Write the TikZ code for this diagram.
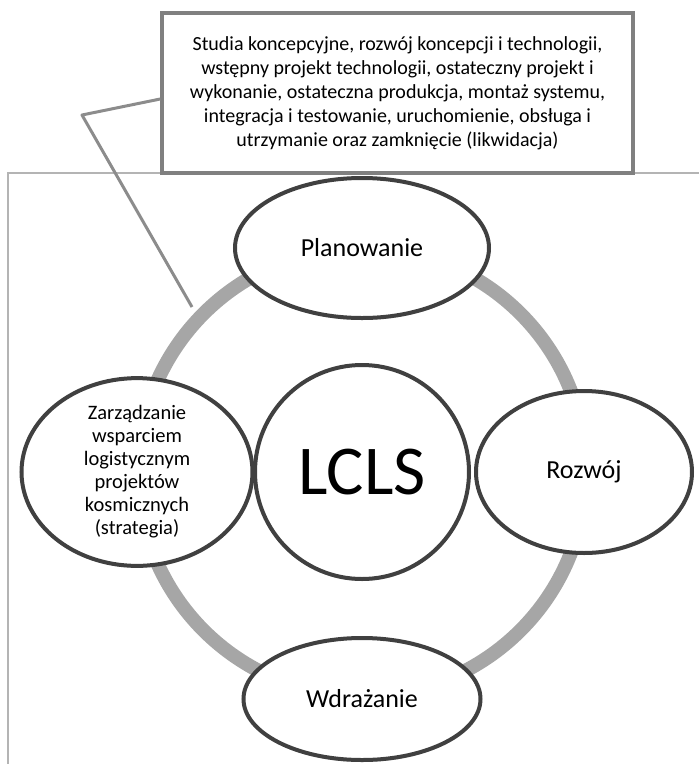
\documentclass[tikz,border=0pt]{standalone}
\usepackage{fontspec}
\setmainfont{Carlito}
\usetikzlibrary{shapes.geometric,shadows}
\definecolor{ringgray}{HTML}{A6A6A6}
\definecolor{edgegray}{HTML}{404040}
\definecolor{boxgray}{HTML}{808080}
\definecolor{leadgray}{HTML}{8C8C8C}
\definecolor{framegray}{HTML}{B4B4B4}
\begin{document}
\begin{tikzpicture}[x=1pt,y=-1pt,
  phase/.style={ellipse, draw=edgegray, line width=4pt, fill=white,
    inner sep=0pt, align=center, text=black,
    drop shadow={opacity=0.3, shadow xshift=0.5pt, shadow yshift=-2pt}},
  hubnode/.style={circle, draw=edgegray, line width=4pt, fill=white,
    inner sep=0pt, minimum size=214pt, font=\fontsize{70}{70}\selectfont,
    drop shadow={opacity=0.3, shadow xshift=0.5pt, shadow yshift=-2pt}},
  notebox/.style={rectangle, draw=boxgray, line width=3.5pt, fill=white,
    inner sep=0pt, align=center,
    font=\fontsize{20}{24}\selectfont,
    drop shadow={opacity=0.25, shadow xshift=1pt, shadow yshift=-1pt}},
  leader/.style={draw=leadgray, line width=3pt, line join=round},
  cycle ring/.style={draw=ringgray, line width=14pt},
  frame/.style={draw=framegray, line width=1.2pt}]
\useasboundingbox (0,0) rectangle (699,764);

% outer frame
\draw[frame] (8,800) -- (8,173) -- (720,173);

% cycle ring behind the phases
\coordinate (hub) at (362,472);
\draw[cycle ring] (hub) circle[radius=224pt];

% phases of the cycle
\node[phase, minimum width=254pt, minimum height=140pt,
      font=\fontsize{26}{26}\selectfont] (plan) at (362,248) {Planowanie};
\node[phase, minimum width=216pt, minimum height=162pt,
      font=\fontsize{26}{26}\selectfont] (dev) at (584,472) {Rozwój};
\node[phase, minimum width=237pt, minimum height=122pt,
      font=\fontsize{26}{26}\selectfont] (impl) at (362,699) {Wdrażanie};
\node[phase, minimum width=231pt, minimum height=161pt,
      font=\fontsize{20.5}{23}\selectfont] (mgmt) at (137,472)
  {Zarządzanie\\wsparciem\\logistycznym\\projektów\\kosmicznych\\(strategia)};

% centre
\node[hubnode] (lcls) at (hub) {LCLS};

% callout with its leader line
\node[notebox, minimum width=471pt, minimum height=160pt] (note) at (397.5,93)
  {Studia koncepcyjne, rozwój koncepcji i technologii,\\
   wstępny projekt technologii, ostateczny projekt i\\
   wykonanie, ostateczna produkcja, montaż systemu,\\
   integracja i testowanie, uruchomienie, obsługa i\\
   utrzymanie oraz zamknięcie (likwidacja)};
\coordinate (knee) at (82,115);
\coordinate (tip) at (192,307);
\draw[leader] ([yshift=-6pt]note.west) -- (knee) -- (tip);
\end{tikzpicture}
\end{document}
